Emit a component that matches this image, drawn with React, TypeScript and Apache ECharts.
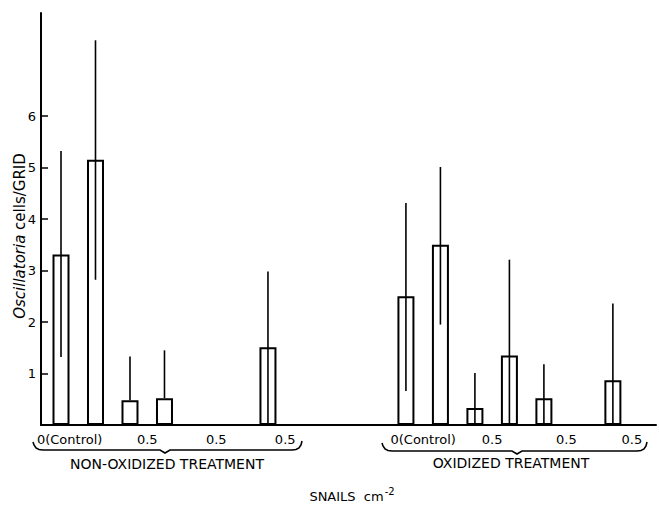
import React, { useEffect, useRef } from "react";
import * as echarts from "echarts";

// Values (cells/GRID); null = no bar in that slot
const nonOxMeans = [3.31, 5.15, 0.48, 0.52, null, null, 1.51, null];
const nonOxUpper = [5.32, 7.47, 1.33, 1.45, null, null, 2.98, null];
const nonOxLower = [1.32, 2.82, null, null, null, null, 0, null];
const oxMeans = [2.5, 3.5, 0.33, 1.35, 0.52, null, 0.87, null];
const oxUpper = [4.31, 5.01, 1.01, 3.21, 1.18, null, 2.36, null];
const oxLower = [0.66, 1.95, 0, 0, 0, null, 0, null];
const groupStart = [0, 10];
const categoryLabels = ["0(Control)", "0.5", "0.5", "0.5", "0(Control)", "0.5", "0.5", "0.5"];
const categoryLabelPos = [0.25, 2.5, 4.5, 6.5, 10.5, 12.5, 14.65, 16.55];
const yTicks = [1, 2, 3, 4, 5, 6];
const groupNames = ["NON-OXIDIZED TREATMENT", "OXIDIZED TREATMENT"];

const FONT = "DejaVu Sans";

function bracePoints(x1: number, x2: number, xm: number, y: number) {
  return [
    [x1, y - 8],
    [x1 + 1, y - 5],
    [x1 + 3, y - 2],
    [x1 + 6, y - 0.5],
    [x1 + 10, y],
    [xm - 5, y],
    [xm, y + 3],
    [xm + 5, y],
    [x2 - 10, y],
    [x2 - 6, y - 0.5],
    [x2 - 3, y - 2],
    [x2 - 1, y - 5],
    [x2, y - 9],
  ];
}

export default function App() {
  const ref = useRef<HTMLDivElement>(null);
  useEffect(() => {
    if (!ref.current) return;
    const chart = echarts.init(ref.current, undefined, { renderer: "svg" });

    const barData: number[][] = [];
    const errData: number[][] = [];
    const groups = [
      [nonOxMeans, nonOxUpper, nonOxLower],
      [oxMeans, oxUpper, oxLower],
    ];
    groups.forEach(([means, upper, lower], g) => {
      means.forEach((m, i) => {
        if (m == null) return;
        const x = groupStart[g] + i;
        barData.push([x, m]);
        const lo = lower[i] == null ? m : (lower[i] as number);
        errData.push([x, lo, upper[i] as number]);
      });
    });

    chart.setOption({
      animation: false,
      grid: { left: 41, right: 3, top: 13, bottom: 80 },
      xAxis: {
        type: "value",
        min: -0.58,
        max: 17.25,
        splitLine: { show: false },
        axisLine: { show: true, onZero: false, lineStyle: { color: "#000", width: 2 } },
        axisTick: { show: false },
        axisLabel: {
          customValues: categoryLabelPos,
          formatter: (v: number) => {
            const idx = categoryLabelPos.findIndex((p) => Math.abs(p - v) < 1e-6);
            return idx >= 0 ? categoryLabels[idx] : "";
          },
          color: "#000",
          fontFamily: FONT,
          fontSize: 13,
          margin: 8,
        },
      },
      yAxis: {
        type: "value",
        min: 0,
        max: 8,
        splitLine: { show: false },
        axisLine: { show: true, onZero: false, lineStyle: { color: "#000", width: 2 } },
        axisTick: {
          show: true,
          inside: true,
          length: 7,
          customValues: yTicks,
          lineStyle: { color: "#000", width: 1.5 },
        },
        axisLabel: {
          customValues: yTicks,
          color: "#000",
          fontFamily: FONT,
          fontSize: 13,
          margin: 5,
        },
      },
      series: [
        {
          type: "bar",
          data: barData,
          barWidth: 17,
          itemStyle: { color: "rgba(0,0,0,0)", borderColor: "#000", borderWidth: 2 },
          z: 2,
        },
        {
          type: "custom",
          data: errData,
          encode: { x: 0, y: [1, 2] },
          z: 3,
          renderItem: (_params: any, api: any) => {
            const x = api.value(0);
            const p1 = api.coord([x, api.value(1)]);
            const p2 = api.coord([x, api.value(2)]);
            return {
              type: "line",
              shape: { x1: p1[0], y1: p1[1], x2: p2[0], y2: p2[1] },
              style: { stroke: "#000", lineWidth: 1.6 },
            };
          },
        },
      ],
      graphic: [
        {
          type: "text",
          x: 20,
          y: 236,
          rotation: Math.PI / 2,
          style: {
            text: "{i|Oscillatoria} cells/GRID",
            align: "center",
            verticalAlign: "middle",
            fill: "#000",
            font: `15px "${FONT}"`,
            rich: {
              i: { fontStyle: "italic", fontFamily: FONT, fontSize: 15, fill: "#000" },
            },
          },
        },
        {
          type: "polyline",
          shape: { points: bracePoints(33, 302, 165, 450) },
          style: { stroke: "#000", lineWidth: 1.6, fill: null },
        },
        {
          type: "polyline",
          shape: { points: bracePoints(382, 647, 517, 451) },
          style: { stroke: "#000", lineWidth: 1.6, fill: null },
        },
        {
          type: "text",
          x: 167,
          y: 464,
          style: {
            text: groupNames[0],
            align: "center",
            verticalAlign: "middle",
            fill: "#000",
            font: `14px "${FONT}"`,
          },
        },
        {
          type: "text",
          x: 511,
          y: 463,
          style: {
            text: groupNames[1],
            align: "center",
            verticalAlign: "middle",
            fill: "#000",
            font: `14px "${FONT}"`,
          },
        },
        {
          type: "text",
          x: 352,
          y: 496,
          style: {
            text: "SNAILS  cm{s|-2}",
            align: "center",
            verticalAlign: "middle",
            fill: "#000",
            font: `13px "${FONT}"`,
            rich: {
              s: { fontSize: 10, fontFamily: FONT, fill: "#000", verticalAlign: "bottom", padding: [0, 0, 10, 1] },
            },
          },
        },
      ],
    });
    return () => chart.dispose();
  }, []);
  return <div ref={ref} style={{ width: 659, height: 505, position: "absolute", left: 0, top: 0 }} />;
}
